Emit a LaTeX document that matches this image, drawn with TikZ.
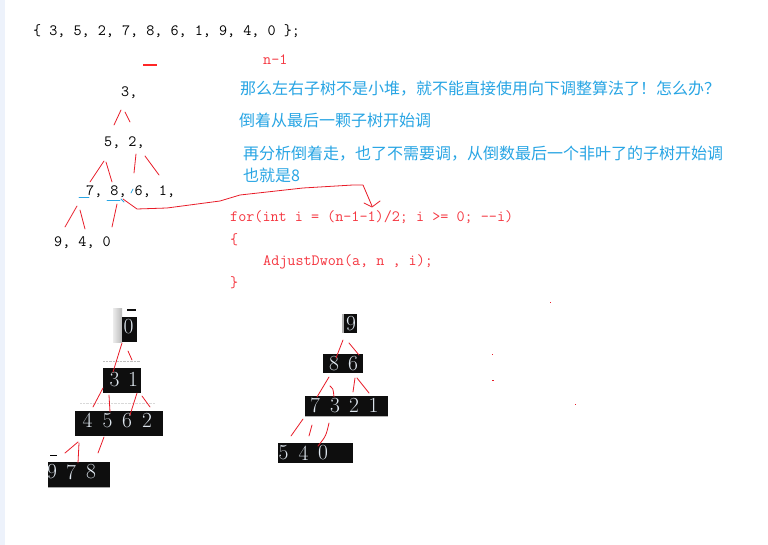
\documentclass[tikz,border=0pt]{standalone}
\usepackage{fontspec}
\newfontfamily\cjk{Noto Sans CJK SC}
\definecolor{tblue}{RGB}{40,165,228}
\definecolor{tred}{RGB}{245,55,65}
\definecolor{rline}{RGB}{232,28,40}
\definecolor{boxblack}{RGB}{14,14,14}
\definecolor{digit}{RGB}{222,230,238}
\definecolor{strip}{RGB}{237,242,251}
\begin{document}
\begin{tikzpicture}[x=1pt,y=-1pt,
  cn/.style={font=\cjk\fontsize{16}{19}\selectfont, text=tblue, anchor=west, inner sep=0},
  mono/.style={font=\ttfamily\fontsize{15.7}{18}\selectfont, anchor=west, inner sep=0},
  code/.style={mono, text=tred},
  rl/.style={draw=rline, line width=0.8pt, line cap=round, line join=round},
  bl/.style={draw=tblue, line width=0.8pt, line cap=round},
  bbox/.style={fill=boxblack, draw=none},
  dg/.style={font=\fontsize{21.5}{23}\selectfont, text=digit, inner sep=0},
  rdot/.style={fill=rline, draw=none}]
\useasboundingbox (0,0) rectangle (768,545);
\fill[white] (0,0) rectangle (768,545);
\fill[strip] (0,0) rectangle (5,545);

% top array
\node[mono] (arr) at (33,31) {\{ 3, 5, 2, 7, 8, 6, 1, 9, 4, 0 \};};
\draw[draw=red!85!white, line width=1.1pt] (143,65) -- (157,65);
\node[code] (n1) at (263,60) {n-1};

% blue notes
\node[cn] (t1) at (240,89) {那么左右子树不是小堆，就不能直接使用向下调整算法了！怎么办？};
\node[cn] (t2) at (239,120) {倒着从最后一颗子树开始调};
\node[cn] (t3) at (243,154) {再分析倒着走，也了不需要调，从倒数最后一个非叶了的子树开始调};
\node[cn] (t4) at (243,175) {也就是8};

% tree 1 (text)
\node[mono] (r0) at (121,93) {3,};
\node[mono] (r1) at (104,143) {5, 2,};
\node[mono] (r2) at (86,192) {7, 8, 6, 1,};
\node[mono] (r3) at (54,243) {9, 4, 0};

\draw[rl] (114,125) -- (121,110);
\draw[rl] (125,112) -- (130,122);
\draw[rl] (104,161) -- (90,182);
\draw[rl] (106,162) -- (112,182);
\draw[rl] (136,154) -- (134,173);
\draw[rl] (145,156) -- (159,175);
\draw[rl] (77,206) -- (65,227);
\draw[rl] (80,210) -- (85,229);
\draw[rl] (117,204) -- (112,227);

\draw[bl] (79,197) -- (89,197);
\draw[bl] (107,200) -- (120,200);
\draw[bl] (131,193) -- (133,189);
\draw[bl] (121,199) -- (124,202);

% red arrow curve
\draw[rl] (123,199) -- (137,209) -- (167,208) -- (220,201) -- (240,195) -- (303,188) -- (353,185) -- (363,185) -- (372,206);
\draw[rl] (364,203) -- (372,207) -- (380,201);

% code
\node[code] (c1) at (230,217) {for(int i = (n-1-1)/2; i >= 0; --i)};
\node[code] (c2) at (230,240) {\{};
\node[code] (c3) at (263,262) {AdjustDwon(a, n , i);};
\node[code] (c4) at (230,283) {\}};

% bottom tree 1
\shade[left color=gray!15, right color=gray!55] (113,308) rectangle (122,342);
\fill[boxblack] (127,309) rectangle (136,310.5);
\fill[bbox] (122,317) rectangle (137,342);
\node[dg] (a0) at (128.5,326.5) {0};
\draw[gray!50, densely dotted] (103,361) -- (140,361);
\fill[bbox] (103,368) rectangle (141,393);
\node[dg] (a1) at (114.5,379.5) {3};
\node[dg] (a2) at (133,379.5) {1};
\draw[gray!30, densely dotted] (80,403) -- (155,403);
\fill[bbox] (75,411) rectangle (163,436);
\node[dg] (a3) at (87.5,420.5) {4};
\node[dg] (a4) at (107.5,420.5) {5};
\node[dg] (a5) at (127,420.5) {6};
\node[dg] (a6) at (147,420.5) {2};
\draw[black, line width=0.6pt] (50,455) -- (57,455);
\begin{scope}
\clip (48,462) rectangle (110,487);
\fill[bbox] (48,462) rectangle (110,487);
\node[dg] (a7) at (52,472) {9};
\end{scope}
\draw[gray!70, line width=0.8pt] (48,487) -- (110,487);
\node[dg] (a8) at (71,472) {7};
\node[dg] (a9) at (91,472) {8};

\draw[rl] (122,343) -- (113,372);
\draw[rl] (128,351) -- (132,360);
\draw[rl] (103,388) -- (93,407);
\draw[rl] (109,395) -- (110,412);
\draw[rl] (137,393) -- (130,415);
\draw[rl] (142,396) -- (150,407);
\draw[rl] (78,442) -- (65,453);
\draw[rl] (79,443) -- (78,463);
\draw[rl] (104,437) -- (98,453);

% bottom tree 2
\fill[gray!60] (342,314) rectangle (343.5,333);
\fill[bbox] (343.5,314) rectangle (357,333);
\node[dg] (b0) at (351,323.5) {9};
\fill[bbox] (323,354) rectangle (363,373);
\node[dg] (b1) at (334,363.5) {8};
\node[dg] (b2) at (353,363.5) {6};
\fill[bbox] (305,396) rectangle (388,416);
\draw[gray!60, line width=0.6pt] (305,416) -- (388,416);
\node[dg] (b3) at (315,405.5) {7};
\node[dg] (b4) at (335,405.5) {3};
\node[dg] (b5) at (354,405.5) {2};
\node[dg] (b6) at (373.5,405.5) {1};
\fill[bbox] (278,443) rectangle (353,463);
\node[dg] (b7) at (283.5,453) {5};
\node[dg] (b8) at (303.5,453) {4};
\node[dg] (b9) at (323,453) {0};

\draw[rl] (343,340) -- (336,358);
\draw[rl] (349,343) -- (359,355);
\draw[rl] (329,377) -- (317,397);
\draw[rl] (330,386) .. controls (333,388) .. (334,397);
\draw[rl] (355,378) -- (353,392);
\draw[rl] (357,378) -- (369,393);
\draw[rl] (303,419) -- (291,436);
\draw[rl] (312,425) -- (309,436);
\draw[rl] (329,423) .. controls (326,436) .. (318,446);

% red dots
\fill[rdot] (549.5,301.5) rectangle (551,303);
\fill[rdot] (491.5,353.5) rectangle (493,355);
\fill[rdot] (491.5,379.5) rectangle (493.5,381);
\fill[rdot] (574.5,403.5) rectangle (576,405);
\end{tikzpicture}
\end{document}
